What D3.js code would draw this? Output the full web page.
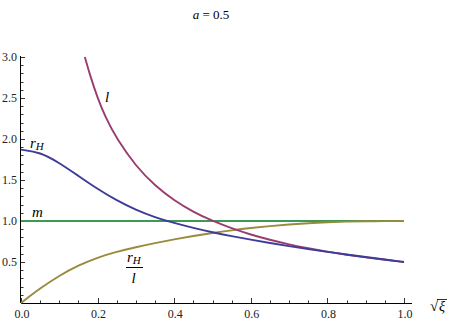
<!DOCTYPE html>
<html><head><meta charset="utf-8">
<script src="https://cdn.jsdelivr.net/npm/d3@7"></script>
<style>body{margin:0;background:#fff}svg{display:block}</style>
</head><body>
<script>
const xs = [0,0.05,0.10,0.15,0.20,0.25,0.30,0.35,0.40,0.45,0.50,0.55,0.60,0.65,0.70,0.75,0.80,0.85,0.90,0.95,1.00];
const rH = [1.87,1.84,1.71,1.55,1.39,1.25,1.135,1.045,0.975,0.915,0.862,0.815,0.772,0.731,0.693,0.657,0.623,0.591,0.56,0.53,0.50];
const ratio = [0,0.18,0.335,0.46,0.556,0.625,0.681,0.731,0.776,0.818,0.855,0.887,0.915,0.938,0.958,0.973,0.985,0.993,0.997,0.999,1.0];
const lx = [0.1667,0.18,0.20,0.22,0.25,0.30,0.35,0.40,0.45,0.50,0.55,0.60,0.65,0.70,0.75,0.80,0.85,0.90,0.95,1.00];
const lv = [3.0,2.78,2.5,2.27,2.0,1.667,1.43,1.25,1.11,1.0,0.91,0.833,0.77,0.714,0.667,0.625,0.588,0.556,0.526,0.5];
const mx = [0,1];
const mv = [1,1];
const xTicks = [0,0.2,0.4,0.6,0.8,1.0];
const yTicks = [0.5,1.0,1.5,2.0,2.5,3.0];

const W=450,H=323;
const FF="'Liberation Serif'";
const svg=d3.select("body").append("svg").attr("width",W).attr("height",H);
const x=d3.scaleLinear().domain([0,1]).range([21,404]);
const y=d3.scaleLinear().domain([0,3]).range([303,57]);

svg.append("line").attr("x1",21).attr("x2",412).attr("y1",303.5).attr("y2",303.5).attr("stroke","#000").attr("stroke-width",1);
svg.append("line").attr("x1",20.5).attr("x2",20.5).attr("y1",303).attr("y2",56).attr("stroke","#000").attr("stroke-width",1);

const xMinor=d3.range(0,1.0001,0.05);
svg.selectAll(".xt").data(xMinor).enter().append("line")
 .attr("x1",d=>Math.round(x(d))+0.5).attr("x2",d=>Math.round(x(d))+0.5)
 .attr("y1",303).attr("y2",d=>Math.abs(d*5-Math.round(d*5))<1e-6?298:300.5)
 .attr("stroke","#000").attr("stroke-width",0.8);
svg.selectAll(".xl").data(xTicks).enter().append("text")
 .attr("x",d=>x(d)+1).attr("y",318).attr("text-anchor","middle")
 .style("font-family",FF).attr("font-size",12).attr("fill","#222")
 .text(d=>d3.format(".1f")(d));
const yMinor=d3.range(0.1,3.0001,0.1);
svg.selectAll(".yt").data(yMinor).enter().append("line")
 .attr("y1",d=>Math.round(y(d))+0.5).attr("y2",d=>Math.round(y(d))+0.5)
 .attr("x1",21).attr("x2",d=>Math.abs(d*2-Math.round(d*2))<1e-6?25:23.5)
 .attr("stroke","#000").attr("stroke-width",0.8);
svg.selectAll(".yl").data(yTicks).enter().append("text")
 .attr("x",17).attr("y",d=>y(d)+4).attr("text-anchor","end")
 .style("font-family",FF).attr("font-size",12).attr("fill","#222")
 .text(d=>d3.format(".1f")(d));

const line=d3.line().x(d=>x(d[0])).y(d=>y(d[1])).curve(d3.curveBasis);
const series=[
 {xs:mx,ys:mv,c:"#3d9954"},
 {xs:xs,ys:ratio,c:"#998b3d"},
 {xs:lx,ys:lv,c:"#993d71"},
 {xs:xs,ys:rH,c:"#3d3d99"}
];
series.forEach(s=>{
 svg.append("path").attr("d",line(d3.zip(s.xs,s.ys))).attr("fill","none")
  .attr("stroke",s.c).attr("stroke-width",1.9);
});

function txt(xp,yp,size,italic){
 return svg.append("text").attr("x",xp).attr("y",yp).attr("font-size",size)
  .style("font-family",FF).attr("font-style",italic?"italic":"normal");
}
const t=txt(211,19,13,false).attr("text-anchor","middle");
t.append("tspan").attr("font-style","italic").text("a");
t.append("tspan").text(" = 0.5");

const rl=txt(30,148,15,true);
rl.append("tspan").text("r");
rl.append("tspan").attr("font-size",11).attr("dy",2).text("H");
txt(105,102,15,true).text("l");
txt(32,217,15,true).text("m");
const fr=txt(127,262,15,true);
fr.append("tspan").text("r");
fr.append("tspan").attr("font-size",11).attr("dy",2).text("H");
svg.append("line").attr("x1",126).attr("x2",143).attr("y1",267.5).attr("y2",267.5).attr("stroke","#000").attr("stroke-width",1);
txt(131.5,283,15,true).text("l");

txt(430,311,15,false).text("\u221A");
svg.append("line").attr("x1",437).attr("x2",447).attr("y1",299.5).attr("y2",299.5).attr("stroke","#000").attr("stroke-width",0.8);
txt(439,311,14,true).text("\u03BE");
</script>
</body></html>
